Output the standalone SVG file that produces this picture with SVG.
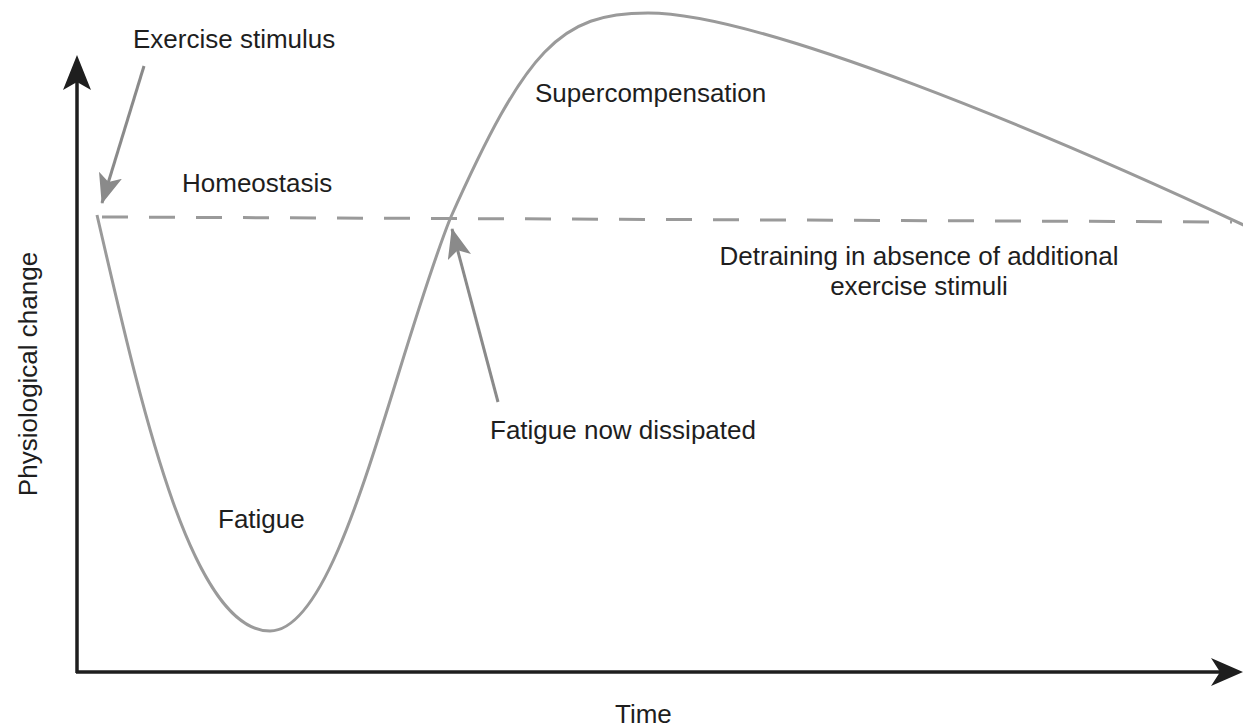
<svg xmlns="http://www.w3.org/2000/svg" width="1243" height="728" viewBox="0 0 1243 728">
<style>
text{font-family:"Liberation Sans",Arial,sans-serif;font-size:26px;fill:#1e1e1e}
.axis{stroke:#1e1e1e;stroke-width:3.5;fill:none}
.curve{stroke:#9a9a9a;stroke-width:3;fill:none}
.dash{stroke:#9a9a9a;stroke-width:3;fill:none;stroke-dasharray:26 21}
.pointer{stroke:#8a8a8a;stroke-width:3;fill:none}
</style>
<defs>
<marker id="grayhead" viewBox="0 0 30 24" refX="29" refY="12" markerWidth="30" markerHeight="24" markerUnits="userSpaceOnUse" orient="auto">
<path d="M0,0 L30,12 L0,24 L7,12 Z" fill="#8a8a8a"/>
</marker>
</defs>
<rect width="1243" height="728" fill="#ffffff"/>
<g id="axes">
<line class="axis" x1="77" y1="673" x2="77" y2="80"/>
<path d="M77,55 L63,90 L77,82 L91,90 Z" fill="#1e1e1e"/>
<line class="axis" x1="76" y1="672" x2="1220" y2="672"/>
<path d="M1243,672 L1211,658 L1220,672 L1211,686 Z" fill="#1e1e1e"/>
</g>
<g id="homeostasis-line">
<line class="dash" x1="102" y1="217" x2="1232" y2="222"/>
</g>
<g id="response-curve">
<path class="curve" d="M97,215 C140,400 190,631 270,631 C340,631 391,369 450,219 C526,49 560,13 648,13 C760,13 1043,131 1250,228"/>
</g>
<g id="connectors">
<line class="pointer" x1="144" y1="66" x2="102" y2="203" marker-end="url(#grayhead)"/>
<line class="pointer" x1="498" y1="402" x2="452" y2="229" marker-end="url(#grayhead)"/>
</g>
<g id="label-exercise-stimulus"><text x="133" y="48">Exercise stimulus</text></g>
<g id="label-homeostasis"><text x="182" y="192">Homeostasis</text></g>
<g id="label-supercompensation"><text x="535" y="102">Supercompensation</text></g>
<g id="label-detraining">
<text x="919" y="265" text-anchor="middle">Detraining in absence of additional</text>
<text x="919" y="295" text-anchor="middle">exercise stimuli</text>
</g>
<g id="label-fatigue-dissipated"><text x="490" y="439">Fatigue now dissipated</text></g>
<g id="label-fatigue"><text x="218" y="528">Fatigue</text></g>
<g id="label-y-axis"><text transform="translate(37,374) rotate(-90)" text-anchor="middle">Physiological change</text></g>
<g id="label-x-axis"><text x="615" y="723">Time</text></g>
</svg>
